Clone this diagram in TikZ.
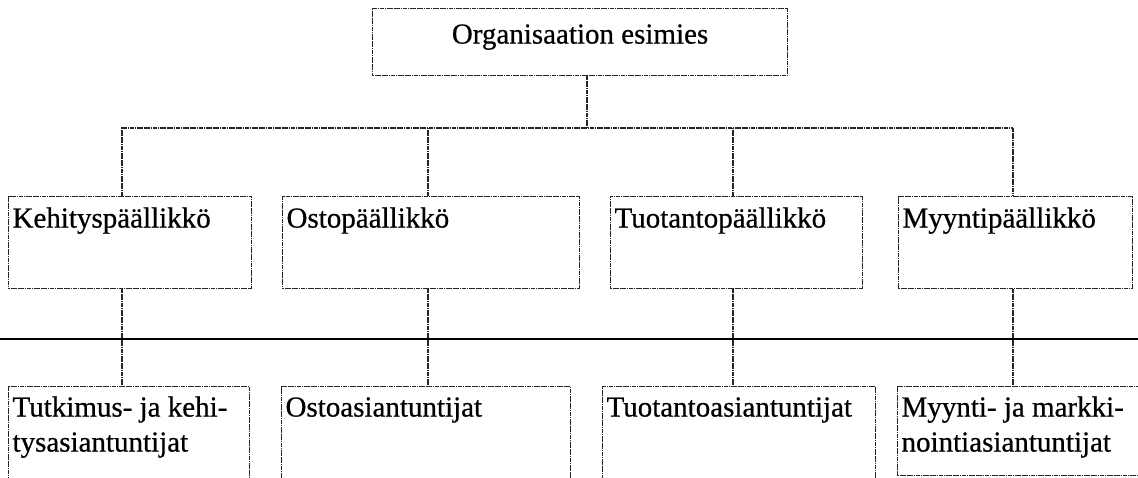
\documentclass[tikz,border=0pt]{standalone}
\usepackage{fontspec}
\setmainfont{Liberation Serif}
\newfontfamily\inkfont{Liberation Serif}[FakeBold=0.6]

% A framed cell: width, height, first baseline depth, alignment, text
\newcommand\celltext[5]{%
  \begin{minipage}[t][#2pt][t]{#1pt}#4\rule{0pt}{#3pt}#5\end{minipage}}
\newcommand\padleft{\raggedright\leftskip=4pt\relax}

\tikzset{
  thinline/.style={draw=black!85, line width=1.1pt, dash pattern=on 1.8pt off 0.5pt},
  unit/.style={thinline, inner sep=0pt, anchor=north west,
               font=\inkfont\fontsize{29}{35}\selectfont},
  link/.style={thinline},
  divider/.style={draw=black, line width=2pt}
}

\begin{document}
\begin{tikzpicture}[x=1pt,y=-1pt]
  \useasboundingbox (0,0) rectangle (1138,477);
  \clip (0,0) rectangle (1138,477);

  % head of the organisation
  \node[unit] (top) at (372,8)
    {\celltext{415}{67}{35}{\centering}{Organisaation esimies}};

  % managers
  \node[unit] (m1) at (8,196)   {\celltext{243}{92}{31}{\padleft}{Kehityspäällikkö}};
  \node[unit] (m2) at (282,196) {\celltext{297}{92}{31}{\padleft}{Ostopäällikkö}};
  \node[unit] (m3) at (610,196) {\celltext{252}{92}{31}{\padleft}{Tuotantopäällikkö}};
  \node[unit] (m4) at (898,196) {\celltext{234}{92}{31}{\padleft}{Myyntipäällikkö}};

  % specialists
  \node[unit] (s1) at (8,386)   {\celltext{241}{120}{30}{\padleft}{Tutkimus- ja kehi-\\tysasiantuntijat}};
  \node[unit] (s2) at (281,386) {\celltext{289}{120}{30}{\padleft}{Ostoasiantuntijat}};
  \node[unit] (s3) at (602,386) {\celltext{273}{120}{30}{\padleft}{Tuotantoasiantuntijat}};
  \node[unit] (s4) at (897,386) {\celltext{263}{89}{30}{\padleft}{Myynti- ja markki-\\nointiasiantuntijat}};

  % columns of the reporting lines
  \coordinate (c0) at (587,0);
  \coordinate (c1) at (122,0);
  \coordinate (c2) at (428,0);
  \coordinate (c3) at (733,0);
  \coordinate (c4) at (1013,0);
  \coordinate (bus) at (0,128);

  % upper reporting lines
  \draw[link] (top.south -| c0) -- (c0 |- bus);
  \draw[link] (m1.north -| c1) -- (c1 |- bus) -- (c4 |- bus) -- (m4.north -| c4);
  \draw[link] (m2.north -| c2) -- (c2 |- bus);
  \draw[link] (m3.north -| c3) -- (c3 |- bus);

  % lower reporting lines
  \draw[link] (m1.south -| c1) -- (s1.north -| c1);
  \draw[link] (m2.south -| c2) -- (s2.north -| c2);
  \draw[link] (m3.south -| c3) -- (s3.north -| c3);
  \draw[link] (m4.south -| c4) -- (s4.north -| c4);

  % divider between management and specialists
  \coordinate (dl) at (0,339);
  \coordinate (dr) at (1138,339);
  \draw[divider] (dl) -- (dr);
\end{tikzpicture}
\end{document}
